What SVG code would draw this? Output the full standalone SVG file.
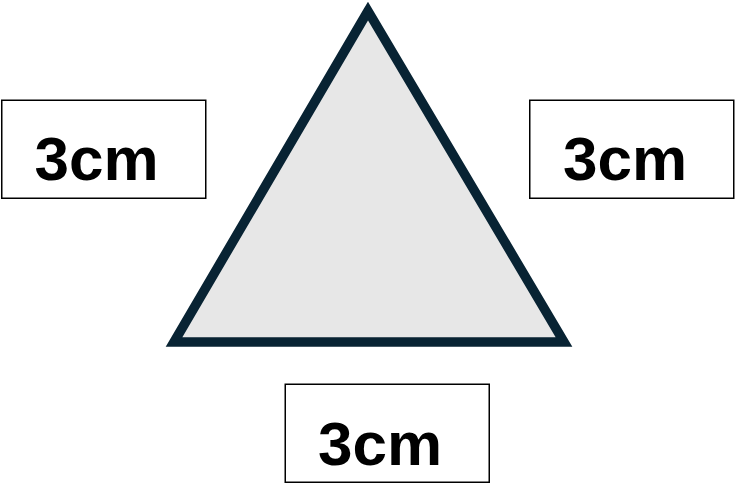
<svg xmlns="http://www.w3.org/2000/svg" width="735" height="484" viewBox="0 0 735 484">
<style>
.box{fill:#ffffff;stroke:#000000;stroke-width:1.5}
.lbl{font-family:"Liberation Sans",Arial,sans-serif;font-weight:bold;font-size:62px;fill:#000000;text-anchor:middle}
.tri{fill:#e7e7e7;stroke:#082333;stroke-width:9.5;stroke-linejoin:miter;stroke-miterlimit:10}
</style>
<rect width="735" height="484" fill="#ffffff"/>
<g id="triangle">
<polygon class="tri" points="368,11 174,342 564,342"/>
</g>
<g id="label-left">
<rect class="box" x="1.75" y="100.25" width="204" height="98"/>
<text class="lbl" x="96.5" y="180">3cm</text>
</g>
<g id="label-right">
<rect class="box" x="529.75" y="100.25" width="204" height="98"/>
<text class="lbl" x="625" y="180">3cm</text>
</g>
<g id="label-bottom">
<rect class="box" x="285.25" y="384.25" width="204" height="98"/>
<text class="lbl" x="380" y="465">3cm</text>
</g>
<g id="connectors"/>
</svg>
